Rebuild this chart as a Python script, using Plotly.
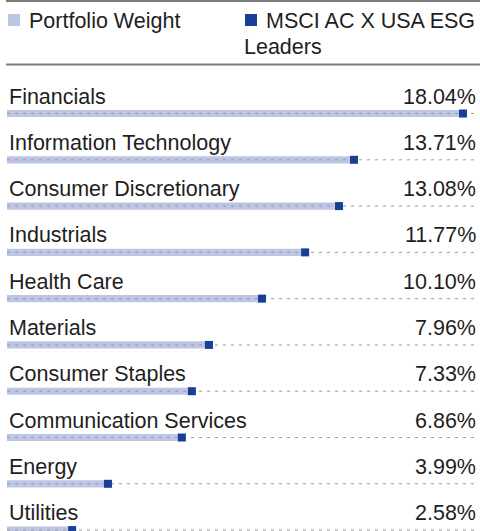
import plotly.graph_objects as go

categories = ["Financials", "Information Technology", "Consumer Discretionary", "Industrials",
              "Health Care", "Materials", "Consumer Staples", "Communication Services",
              "Energy", "Utilities"]
portfolio = [18.04, 13.71, 13.08, 11.77, 10.10, 7.96, 7.33, 6.86, 3.99, 2.58]
benchmark = [18.20, 13.85, 13.25, 11.90, 10.18, 8.06, 7.38, 6.98, 4.03, 2.60]
value_labels = ["18.04%", "13.71%", "13.08%", "11.77%", "10.10%", "7.96%", "7.33%", "6.86%", "3.99%", "2.58%"]
series_names = ["Portfolio Weight", "MSCI AC X USA ESG", "Leaders"]

XMAX = 18.8
W, H = 480, 531
ML, MR, MT, MB = 7, 2, 70, 0
FONT = "Liberation Sans, Arial, Helvetica, sans-serif"
FS = 21.5
LIGHT = "#bcc6e4"
DARK = "#1a3d95"
TXT = "#1e1e1e"

idx = list(range(len(categories)))

fig = go.Figure()
fig.add_trace(go.Bar(x=portfolio, y=idx, orientation="h", base=0, width=0.155,
                     marker=dict(color=LIGHT, line=dict(width=0)),
                     name=series_names[0], showlegend=False, hoverinfo="skip"))
# dotted guide lines
for i in idx:
    fig.add_trace(go.Scatter(x=[0, XMAX], y=[i, i], mode="lines",
                             line=dict(color="#9a9a9a", width=1, dash="3px,5px"),
                             showlegend=False, hoverinfo="skip"))
fig.add_trace(go.Scatter(x=benchmark, y=idx, mode="markers",
                         marker=dict(symbol="square", size=8, color=DARK, line=dict(width=0)),
                         name=series_names[1] + " " + series_names[2], showlegend=False))

annotations = []
for i, (c, v) in enumerate(zip(categories, value_labels)):
    annotations.append(dict(x=0, xref="paper", xanchor="left", y=i, yref="y", yanchor="middle",
                            yshift=17, text=c, showarrow=False,
                            font=dict(family=FONT, size=FS, color=TXT)))
    annotations.append(dict(x=1, xref="paper", xanchor="right", y=i, yref="y", yanchor="middle",
                            yshift=17, text=v, showarrow=False,
                            font=dict(family=FONT, size=FS, color=TXT)))


def px_x(px):
    return (px - ML) / (W - ML - MR)


def px_y(py):
    return 1 - (py - MT) / (H - MT - MB)


annotations += [
    dict(x=px_x(27), y=px_y(21), xref="paper", yref="paper", xanchor="left", yanchor="middle",
         text=series_names[0], showarrow=False, font=dict(family=FONT, size=FS, color=TXT)),
    dict(x=px_x(264), y=px_y(21), xref="paper", yref="paper", xanchor="left", yanchor="middle",
         text=series_names[1], showarrow=False, font=dict(family=FONT, size=FS, color=TXT)),
    dict(x=px_x(242), y=px_y(47), xref="paper", yref="paper", xanchor="left", yanchor="middle",
         text=series_names[2], showarrow=False, font=dict(family=FONT, size=FS, color=TXT)),
]

shapes = [
    dict(type="line", xref="paper", yref="paper", x0=px_x(6), x1=px_x(480), y0=px_y(1), y1=px_y(1),
         line=dict(color="#7a7a7a", width=2)),
    dict(type="line", xref="paper", yref="paper", x0=px_x(6), x1=px_x(480), y0=px_y(64.5), y1=px_y(64.5),
         line=dict(color="#7a7a7a", width=2)),
    dict(type="rect", xref="paper", yref="paper", x0=px_x(8), x1=px_x(20), y0=px_y(14), y1=px_y(26),
         fillcolor=LIGHT, line=dict(width=0)),
    dict(type="rect", xref="paper", yref="paper", x0=px_x(245), x1=px_x(257), y0=px_y(14), y1=px_y(26),
         fillcolor=DARK, line=dict(width=0)),
]

fig.update_layout(
    width=W, height=H,
    margin=dict(l=ML, r=MR, t=MT, b=MB, pad=0),
    paper_bgcolor="white", plot_bgcolor="white",
    showlegend=False,
    barmode="overlay",
    xaxis=dict(range=[0, XMAX], visible=False, fixedrange=True),
    yaxis=dict(range=[9.02, -0.94], visible=False, fixedrange=True),
    annotations=annotations,
    shapes=shapes,
    font=dict(family=FONT, color=TXT),
)

fig.write_html("out.html", config={"displayModeBar": False},
               post_script="document.body.style.margin='0';document.body.style.overflow='hidden';")
